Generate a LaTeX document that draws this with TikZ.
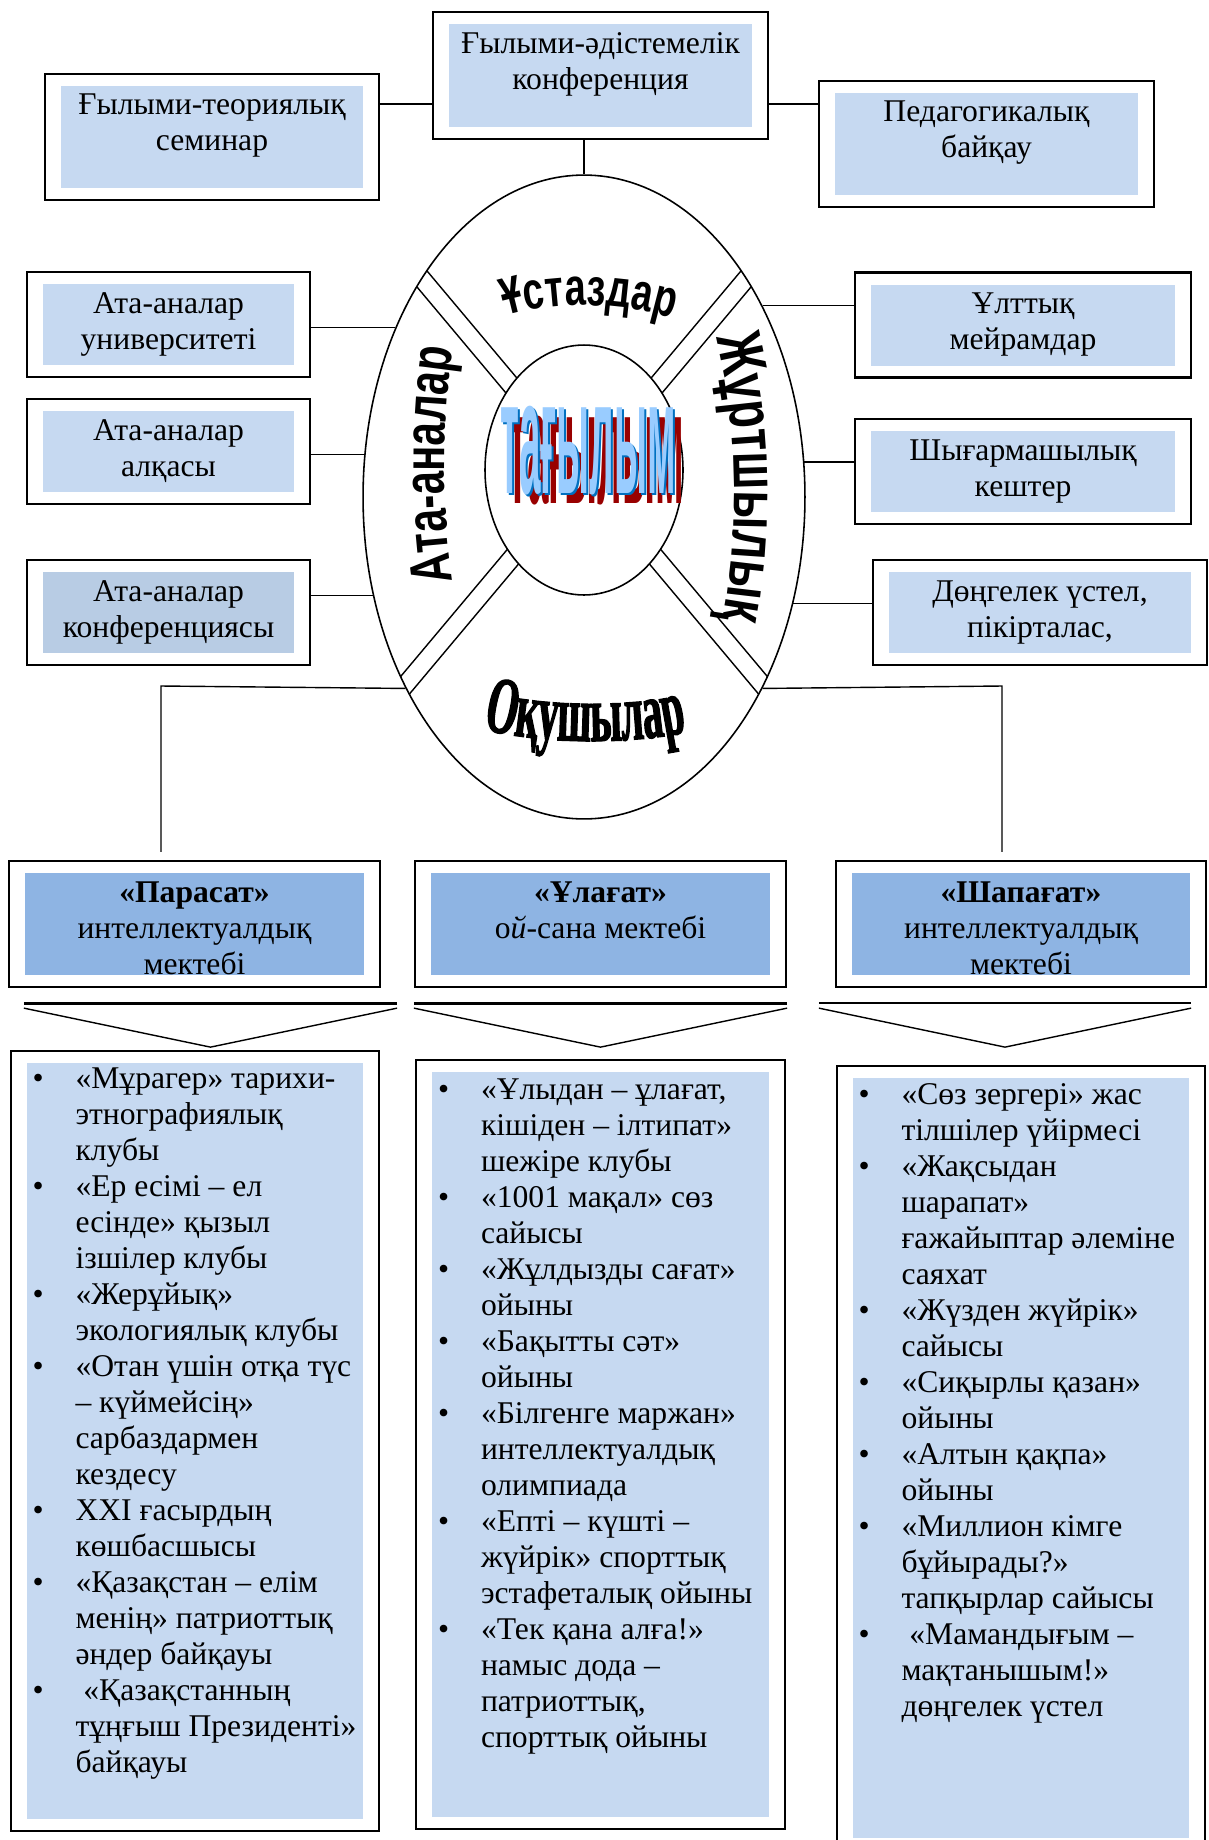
\documentclass[tikz,border=0pt]{standalone}
\usepackage{fontspec}
\setmainfont{Liberation Serif}
\newfontfamily\artsans{Liberation Sans}[FakeStretch=0.72]
\newfontfamily\artserif{Liberation Serif}[FakeStretch=0.5, FakeBold=1.5]
\newfontfamily\tagsans{Liberation Sans}
\usepackage{graphicx}
\usetikzlibrary{shapes.geometric,decorations.text}

\definecolor{paleblue}{HTML}{C6D9F1}
\definecolor{confblue}{HTML}{B8CCE4}
\definecolor{schoolblue}{HTML}{8EB4E3}
\definecolor{tagred}{HTML}{990000}
\definecolor{tagdark}{HTML}{0070C0}
\definecolor{taglight}{HTML}{99CCFF}

\newcommand{\boxtext}[3]{\parbox[c][#2][t]{#1}{\centering\strut #3}}
\newcommand{\listtext}[2]{\parbox[c][#1][t]{6.5cm}{\raggedright\let\\\newline #2}}
\newcommand{\itm}{\par\noindent\hangindent=0.86cm\hangafter=1\makebox[0.86cm][l]{\strut\textbullet}}
\newcommand{\topword}{\artsans\bfseries\fontsize{30}{30}\selectfont}
\newcommand{\leftword}{\artsans\bfseries\fontsize{33}{33}\selectfont}
\newcommand{\rightword}{\artsans\bfseries\fontsize{36}{36}\selectfont}
\newcommand{\pupilword}{\artserif\bfseries\fontsize{46}{46}\selectfont}
\newcommand{\tagglyphs}{\scalebox{1}[4.2]{\tagsans\bfseries\fontsize{22}{22}\selectfont тағылым}}
\newcommand{\tagtext}{%
  \rlap{\hspace{0.16cm}\raisebox{-0.2cm}{\color{tagred}\tagglyphs}}%
  \rlap{\hspace{0.04cm}\raisebox{-0.04cm}{\color{tagdark}\tagglyphs}}%
  {\color{taglight}\tagglyphs}}

\tikzset{
  panel/.style={draw, line width=1.3pt, fill=white, inner sep=0pt,
    path picture={\fill[#1] ([shift={(0.32cm,-0.24cm)}]path picture bounding box.north west)
      rectangle ([shift={(-0.32cm,0.24cm)}]path picture bounding box.south east);}},
  link/.style={line width=0.8pt},
  ringword/.style={decorate, decoration={text along path, text align=center, text={#1}}},
}

\begin{document}
\begin{tikzpicture}[x=0.02cm, y=-0.02cm, font=\fontsize{18}{20.5}\selectfont]
\useasboundingbox (0,0) rectangle (1208,1840);

% top row
\node[panel=paleblue, minimum width=6.7cm, minimum height=2.54cm] (sciconf) at (600.5,75.5)
  {\boxtext{6cm}{1.9cm}{Ғылыми-әдістемелік\\конференция}};
\node[panel=paleblue, minimum width=6.68cm, minimum height=2.52cm] (scisem) at (212,137)
  {\boxtext{6cm}{1.92cm}{Ғылыми-теориялық\\семинар}};
\node[panel=paleblue, minimum width=6.7cm, minimum height=2.52cm] (pedobs) at (986.5,144)
  {\boxtext{6cm}{1.92cm}{Педагогикалық\\байқау}};

% the ring
\node[draw, ellipse, line width=0.9pt, minimum width=8.84cm, minimum height=12.88cm] (ring) at (584,497) {};
\begin{scope}
  \clip (584,497) ellipse [x radius=4.42cm, y radius=6.44cm];
  \foreach \ang in {50,-50}
    \foreach \off in {-9,9}
      \draw[link, shift={(584,472)}, rotate=\ang] (-400,\off) -- (400,\off);
\end{scope}
\node[draw, ellipse, fill=white, line width=0.9pt, minimum width=3.96cm, minimum height=5cm] (hub) at (584,470) {};
\node (tagword) at (588,456) {\tagtext};

\path[ringword={|\topword|Ұстаздар}] (478,326) .. controls (540,298) and (630,298) .. (700,328);
\path[ringword={|\leftword|Ата-аналар}] (458,612) .. controls (440,520) and (440,410) .. (458,318);
\path[ringword={|\rightword|Жұртшылық}] (712,322) .. controls (740,420) and (740,540) .. (720,635);
\path[ringword={|\pupilword|Оқушылар}] (466,724) .. controls (530,746) and (640,746) .. (704,728);

% side boxes
\node[panel=paleblue, minimum width=5.66cm, minimum height=2.1cm] (parentuni) at (168.5,324.5)
  {\boxtext{5cm}{1.46cm}{Ата-аналар\\университеті}};
\node[panel=paleblue, minimum width=5.66cm, minimum height=2.1cm] (parentcouncil) at (168.5,451.5)
  {\boxtext{5cm}{1.46cm}{Ата-аналар\\алқасы}};
\node[panel=confblue, minimum width=5.66cm, minimum height=2.1cm] (parentconf) at (168.5,612.5)
  {\boxtext{5cm}{1.46cm}{Ата-аналар\\конференциясы}};
\node[panel=paleblue, minimum width=6.72cm, minimum height=2.1cm] (nathol) at (1023,325)
  {\boxtext{6cm}{1.46cm}{Ұлттық\\мейрамдар}};
\node[panel=paleblue, minimum width=6.72cm, minimum height=2.1cm] (creative) at (1023,471.5)
  {\boxtext{6cm}{1.46cm}{Шығармашылық\\кештер}};
\node[panel=paleblue, minimum width=6.68cm, minimum height=2.1cm] (roundtable) at (1040,612.5)
  {\boxtext{6cm}{1.46cm}{Дөңгелек үстел,\\пікірталас,}};

% links
\coordinate (semlink) at ([yshift=0.66cm]scisem.east);
\coordinate (obslink) at ([yshift=0.8cm]pedobs.west);
\draw[link] (semlink) -- (semlink -| sciconf.west);
\draw[link] (obslink) -- (obslink -| sciconf.east);
\draw[link] (ring.north) -- (ring.north |- sciconf.south);
\draw[link] (parentuni.east |- ring.138) -- (ring.138);
\draw[link] (parentcouncil.east |- ring.169) -- (ring.169);
\draw[link] (parentconf.east |- ring.205) -- (ring.205);
\draw[link] (nathol.west |- ring.47) -- (ring.47);
\draw[link] (creative.west |- ring.9) -- (ring.9);
\draw[link] (roundtable.west |- ring.333) -- (ring.333);

% schools
\node[panel=schoolblue, minimum width=7.42cm, minimum height=2.52cm] (parasat) at (194.5,924)
  {\boxtext{6.6cm}{1.88cm}{\textbf{«Парасат»}\\интеллектуалдық\\мектебі}};
\node[panel=schoolblue, minimum width=7.42cm, minimum height=2.52cm] (ulagat) at (600.5,924)
  {\boxtext{6.6cm}{1.88cm}{\textbf{«Ұлағат»}\\о\textit{й}-сана мектебі}};
\node[panel=schoolblue, minimum width=7.4cm, minimum height=2.52cm] (shapagat) at (1021,924)
  {\boxtext{6.6cm}{1.88cm}{\textbf{«Шапағат»}\\интеллектуалдық\\мектебі}};

\coordinate (leftbend) at (161,686);
\coordinate (rightbend) at (1002,686);
\draw[link, shorten >=0.16cm] (ring.227) -- (leftbend) -- (leftbend |- parasat.north);
\draw[link, shorten >=0.16cm] (ring.313) -- (rightbend) -- (rightbend |- shapagat.north);

% club lists
\node[panel=paleblue, minimum width=7.36cm, minimum height=15.6cm] (parasatlist) at (195,1441)
  {\listtext{15.12cm}{%
  \itm «Мұрагер» тарихи-\\этнографиялық\\клубы
  \itm «Ер есімі – ел\\есінде» қызыл\\ізшілер клубы
  \itm «Жерұйық»\\экологиялық клубы
  \itm «Отан үшін отқа түс\\– күймейсің»\\сарбаздармен\\кездесу
  \itm XXI ғасырдың\\көшбасшысы
  \itm «Қазақстан – елім\\менің» патриоттық\\әндер байқауы
  \itm \ «Қазақстанның\\тұңғыш Президенті»\\байқауы}};
\node[panel=paleblue, minimum width=7.38cm, minimum height=15.38cm] (ulagatlist) at (600.5,1444.5)
  {\listtext{14.82cm}{%
  \itm «Ұлыдан – ұлағат,\\кішіден – ілтипат»\\шежіре клубы
  \itm «1001 мақал» сөз\\сайысы
  \itm «Жұлдызды сағат»\\ойыны
  \itm «Бақытты сәт»\\ойыны
  \itm «Білгенге маржан»\\интеллектуалдық\\олимпиада
  \itm «Епті – күшті –\\жүйрік» спорттық\\эстафеталық ойыны
  \itm «Тек қана алға!»\\намыс дода –\\патриоттық,\\спорттық ойыны}};
\node[panel=paleblue, minimum width=7.36cm, minimum height=15.68cm] (shapagatlist) at (1021,1458)
  {\listtext{15.16cm}{%
  \itm «Сөз зергері» жас\\тілшілер үйірмесі
  \itm «Жақсыдан\\шарапат»\\ғажайыптар әлеміне\\саяхат
  \itm «Жүзден жүйрік»\\сайысы
  \itm «Сиқырлы қазан»\\ойыны
  \itm «Алтын қақпа»\\ойыны
  \itm «Миллион кімге\\бұйырады?»\\тапқырлар сайысы
  \itm \ «Мамандығым –\\мақтанышым!»\\дөңгелек үстел}};

\foreach \school/\lw/\dx in {parasat/1.8pt/0.32cm, ulagat/1.8pt/0cm, shapagat/0.8pt/-0.32cm} {
  \draw[line width=\lw] ([shift={(\dx,-0.3cm)}]\school.south west) -- ([shift={(\dx,-0.3cm)}]\school.south east);
  \draw[link] ([shift={(\dx,-0.4cm)}]\school.south west) -- ([shift={(\dx,-1.18cm)}]\school.south)
    -- ([shift={(\dx,-0.4cm)}]\school.south east);
}

\end{tikzpicture}
\end{document}
